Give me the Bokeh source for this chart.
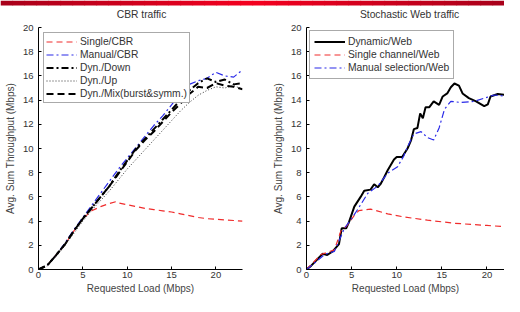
import numpy as np
from bokeh.plotting import figure
from bokeh.layouts import row, column
from bokeh.models import Range1d, FixedTicker, BoxAnnotation
from bokeh.core.properties import value
from bokeh.embed import file_html
from bokeh.resources import INLINE

# ---------------- data: CBR traffic ----------------
load_cbr = [0, 1, 2, 3, 4, 5, 6, 7, 8, 9, 10, 11, 12, 13, 14, 15, 16, 17, 18, 19, 20, 21, 22, 23]
manual_cbr = [0, 0.35, 1.2, 2.2, 3.3, 4.3, 5.3, 6.3, 7.3, 8.3, 9.2, 10.1, 11.0, 11.9, 12.7, 13.6, 14.6, 15.3, 15.6, 15.8, 16.3, 16.0, 15.9, 16.5]
dyn_down = [0, 0.35, 1.2, 2.1, 3.2, 4.2, 5.1, 6.0, 6.9, 8.0, 9.0, 10.0, 10.8, 11.6, 12.4, 13.2, 14.0, 14.8, 15.4, 15.8, 15.5, 15.7, 15.3, 15.4]
dyn_up = [0, 0.3, 1.1, 2.0, 3.0, 4.0, 4.9, 5.7, 6.5, 7.4, 8.3, 9.1, 9.9, 10.7, 11.5, 12.3, 13.1, 13.8, 14.4, 14.8, 15.1, 15.0, 15.2, 14.9]
dyn_mix = [0, 0.35, 1.2, 2.1, 3.2, 4.2, 5.1, 6.0, 6.9, 7.9, 8.9, 9.9, 10.7, 11.4, 12.2, 13.0, 13.7, 14.5, 15.1, 15.0, 15.4, 15.2, 15.1, 14.9]
load_single = [0, 1, 2, 3, 4, 5, 6, 7, 8, 8.7, 9, 10, 11, 12, 13, 14, 15, 16, 17, 18, 19, 20, 21, 22, 23]
single_cbr = [0, 0.35, 1.2, 2.1, 3.2, 4.2, 4.85, 5.2, 5.45, 5.6, 5.5, 5.35, 5.2, 5.05, 4.95, 4.85, 4.75, 4.6, 4.45, 4.3, 4.2, 4.15, 4.1, 4.05, 4.0]

# ---------------- data: Stochastic Web traffic ----------------
web_dyn_x = [0, 0.5, 1.2, 1.8, 2.3, 2.9, 3.6, 3.9, 4.4, 4.7, 5.3, 6.0, 6.4, 7.1, 7.5, 7.9, 8.2, 8.6, 9.0, 9.7,
             10.0, 10.6, 11.2, 11.6, 11.9, 12.3, 12.6, 12.9, 13.2, 13.6, 14.1, 14.7, 15.1, 15.6, 16.0, 16.4,
             16.9, 17.3, 18.0, 18.8, 19.7, 20.1, 20.4, 21.2, 22.3, 23.0]
web_dyn_y = [0, 0.3, 0.85, 1.3, 1.2, 1.5, 2.1, 3.4, 3.4, 3.9, 5.2, 6.0, 6.5, 6.6, 7.05, 6.8, 7.05, 7.6, 8.2, 9.1,
             9.3, 9.3, 10.0, 10.7, 11.6, 11.7, 12.9, 12.5, 13.4, 13.4, 13.9, 13.6, 14.3, 14.55, 15.06, 15.37,
             15.19, 14.55, 14.16, 13.9, 13.5, 13.65, 14.3, 14.5, 14.4, 14.3]
web_single_x = [0, 1.6, 3.1, 3.8, 4.5, 5.3, 5.8, 7.1, 9.0, 10.8, 13.4, 16.4, 20.0, 23.0]
web_single_y = [0, 1.24, 1.62, 3.17, 3.64, 4.47, 4.86, 4.99, 4.6, 4.34, 4.08, 3.82, 3.64, 3.49]
web_manual_x = [0, 1.0, 2.0, 3.1, 4.2, 5.0, 5.7, 6.8, 7.9, 9.0, 10.1, 10.8, 11.2, 11.9, 12.7, 13.4, 14.1, 14.7,
                15.3, 16.0, 17.1, 18.6, 19.7, 20.8, 22.3, 23.0]
web_manual_y = [0, 0.6, 1.24, 1.5, 3.4, 4.2, 5.0, 6.3, 6.9, 7.96, 8.5, 9.4, 10.15, 11.2, 11.4, 10.9, 10.7, 11.7,
                13.25, 13.9, 13.8, 13.9, 14.16, 14.42, 14.3, 14.16]

titles = ["CBR traffic", "Stochastic Web traffic"]
y_ticks = [0, 2, 4, 6, 8, 10, 12, 14, 16, 18, 20]
x_ticks = [0, 5, 10, 15, 20]

FONT = "Liberation Sans"
RED = "#f02c2c"
BLUE = "#2a2ae8"

# layout constants (pixels)
TOTAL_W = 504
HEAD_H = 20
W1, W2 = 250, 254
ML1, MR1, ML2 = 38, 8, 56


def style(p):
    p.xgrid.visible = False
    p.ygrid.visible = False
    p.outline_line_color = None
    p.background_fill_color = "white"
    p.border_fill_color = "white"
    p.xaxis.ticker = FixedTicker(ticks=x_ticks)
    p.yaxis.ticker = FixedTicker(ticks=y_ticks)
    for ax in (p.xaxis[0], p.yaxis[0]):
        ax.major_tick_in = 3
        ax.major_tick_out = 0
        ax.minor_tick_line_color = None
        ax.axis_line_color = "black"
        ax.major_tick_line_color = "black"
        ax.major_label_text_font = FONT
        ax.major_label_text_font_size = "9.5px"
        ax.major_label_text_color = "#333333"
        ax.axis_label_text_font = FONT
        ax.axis_label_text_font_size = "10px"
        ax.axis_label_text_font_style = "normal"
        ax.axis_label_text_color = "#444444"
    p.xaxis.major_label_standoff = 2
    p.xaxis.axis_label_standoff = 2
    p.yaxis.major_label_standoff = 5
    p.yaxis.axis_label_standoff = 4
    p.xaxis.axis_label = "Requested Load (Mbps)"
    p.yaxis.axis_label = "Avg. Sum Throughput (Mbps)"


def style_legend(p, pad, margin):
    lg = p.legend[0]
    lg.location = "top_left"
    lg.margin = margin
    lg.padding = pad
    lg.spacing = 0
    lg.label_height = 13
    lg.glyph_height = 13
    lg.glyph_width = 31
    lg.label_standoff = 3
    lg.label_text_font = FONT
    lg.label_text_font_size = "10.3px"
    lg.label_text_color = "#333333"
    lg.border_line_color = "#555555"
    lg.border_line_width = 1
    lg.background_fill_alpha = 1.0


# --------------- header strip: red banner + panel titles ---------------
head = figure(width=TOTAL_W, height=HEAD_H, output_backend="svg", toolbar_location=None,
              x_range=Range1d(0, TOTAL_W), y_range=Range1d(0, HEAD_H),
              min_border_left=0, min_border_right=0, min_border_top=0, min_border_bottom=0)
head.title.text = ""
head.xaxis.visible = False
head.yaxis.visible = False
head.xgrid.visible = False
head.ygrid.visible = False
head.outline_line_color = None
head.background_fill_color = "white"
head.border_fill_color = "white"
n = 42
edges = np.linspace(0, 1, n + 1)
for i in range(n):
    t = 1 - abs((edges[i] + edges[i + 1]) / 2 - 0.5) * 2
    col = "#%02x00%02x" % (int(0xa8 + (0xf5 - 0xa8) * t), int(0x1a + 6 * t))
    head.add_layout(BoxAnnotation(left=edges[i] * TOTAL_W, right=edges[i + 1] * TOTAL_W + 0.6,
                                  bottom=HEAD_H - 5, fill_color=col, fill_alpha=1.0,
                                  line_color=None))
title_x = [ML1 + (W1 - ML1 - MR1) / 2 + 1, W1 + ML2 + (W2 - ML2) / 2 + 4]
head.text(x=title_x, y=[1, 1], text=titles, text_align="center", text_baseline="bottom",
          text_font=value(FONT), text_font_size="10.3px", text_color="#333333")

# --------------- left panel ---------------
p1 = figure(width=W1, height=296 - HEAD_H, title=None, output_backend="svg", toolbar_location=None,
            x_range=Range1d(0, 23), y_range=Range1d(0, 20),
            min_border_left=ML1, min_border_right=MR1, min_border_top=7, min_border_bottom=23)
style(p1)
p1.line(load_single, single_cbr, color=RED, line_width=1.2, line_dash="6 4", legend_label="Single/CBR")
p1.line(load_cbr, manual_cbr, color=BLUE, line_width=1.2, line_dash="7 3 2 3", legend_label="Manual/CBR")
p1.line(load_cbr, dyn_down, color="black", line_width=2, line_dash="7 3 2 3", legend_label="Dyn./Down")
p1.line(load_cbr, dyn_up, color="#333333", line_width=1, line_dash="1 2", legend_label="Dyn./Up")
p1.line(load_cbr, dyn_mix, color="black", line_width=2, line_dash="7 4", legend_label="Dyn./Mix(burst&symm.)")
style_legend(p1, 2, 5)

# --------------- right panel ---------------
p2 = figure(width=W2, height=296 - HEAD_H, title=None, output_backend="svg", toolbar_location=None,
            x_range=Range1d(0, 21.95), y_range=Range1d(0, 20),
            min_border_left=ML2, min_border_right=0, min_border_top=7, min_border_bottom=23)
style(p2)
p2.line(web_dyn_x, web_dyn_y, color="black", line_width=2, legend_label="Dynamic/Web")
p2.line(web_single_x, web_single_y, color=RED, line_width=1.2, line_dash="6 4", legend_label="Single channel/Web")
p2.line(web_manual_x, web_manual_y, color=BLUE, line_width=1.2, line_dash="7 3 2 3", legend_label="Manual selection/Web")
style_legend(p2, 4, 3)

layout = column(head, row(p1, p2, spacing=0), spacing=0)

with open("out.html", "w") as f:
    f.write(file_html(layout, INLINE))
